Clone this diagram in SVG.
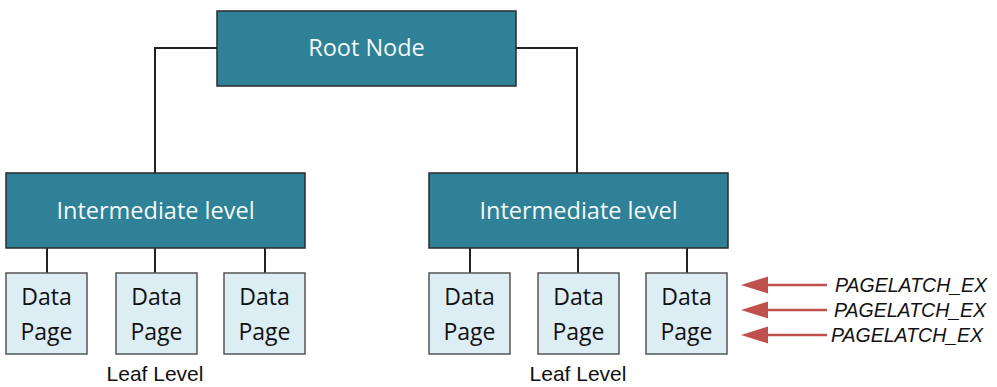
<svg xmlns="http://www.w3.org/2000/svg" width="997" height="387" viewBox="0 0 997 387">
<defs>
<style>
.teal{fill:#2E8196;stroke:#2b2b2b;stroke-width:1.5}
.page{fill:#DCEEF4;stroke:#555;stroke-width:1.5}
.wt{fill:#f4f8fa;font-family:"Open Sans","Noto Sans",sans-serif;font-size:23.5px;text-anchor:middle}
.bt{fill:#111;font-family:"Open Sans","Noto Sans",sans-serif;font-size:23px;text-anchor:middle}
.lf{fill:#111;font-family:"Liberation Sans",Arial,sans-serif;font-size:21px;text-anchor:middle}
.lbl{fill:#111;font-family:"Liberation Sans",Arial,sans-serif;font-size:19.5px;font-style:italic}
.ln{fill:none;stroke:#222;stroke-width:2}
.arr{stroke:#C0504D;stroke-width:2.5;fill:none}
</style>
</defs>
<g id="connectors">
<path class="ln" d="M217,48 H155 V173"/>
<path class="ln" d="M516,48 H577 V173"/>
<path class="ln" d="M47,248 V273 M155,248 V273 M265,248 V273"/>
<path class="ln" d="M470,248 V273 M578,248 V273 M687,248 V273"/>
<path d="M766,285 H827" class="arr"/><path d="M741,285 L768,276.5 L768,293.5 Z" fill="#C0504D"/>
<path d="M766,310 H827" class="arr"/><path d="M741,310 L768,301.5 L768,318.5 Z" fill="#C0504D"/>
<path d="M766,335 H827" class="arr"/><path d="M741,335 L768,326.5 L768,343.5 Z" fill="#C0504D"/>
</g>
<g id="root"><rect class="teal" x="217" y="11" width="299" height="75"/><text class="wt" x="366.5" y="56">Root Node</text></g>
<g id="int1"><rect class="teal" x="6" y="173" width="299" height="75"/><text class="wt" x="155.5" y="219">Intermediate level</text></g>
<g id="int2"><rect class="teal" x="429" y="173" width="299" height="75"/><text class="wt" x="578.5" y="219">Intermediate level</text></g>
<g id="p1"><rect class="page" x="6" y="273" width="81" height="81"/><text class="bt" x="46.5" y="305">Data</text><text class="bt" x="46.5" y="340">Page</text></g>
<g id="p2"><rect class="page" x="116" y="273" width="81" height="81"/><text class="bt" x="156.5" y="305">Data</text><text class="bt" x="156.5" y="340">Page</text></g>
<g id="p3"><rect class="page" x="224" y="273" width="81" height="81"/><text class="bt" x="264.5" y="305">Data</text><text class="bt" x="264.5" y="340">Page</text></g>
<g id="p4"><rect class="page" x="429" y="273" width="81" height="81"/><text class="bt" x="469.5" y="305">Data</text><text class="bt" x="469.5" y="340">Page</text></g>
<g id="p5"><rect class="page" x="538" y="273" width="81" height="81"/><text class="bt" x="578.5" y="305">Data</text><text class="bt" x="578.5" y="340">Page</text></g>
<g id="p6"><rect class="page" x="646" y="273" width="81" height="81"/><text class="bt" x="686.5" y="305">Data</text><text class="bt" x="686.5" y="340">Page</text></g>
<g id="leaf1"><text class="lf" x="155" y="381">Leaf Level</text></g>
<g id="leaf2"><text class="lf" x="578" y="381">Leaf Level</text></g>
<g id="labels">
<text class="lbl" x="835" y="292">PAGELATCH_EX</text>
<text class="lbl" x="834" y="317">PAGELATCH_EX</text>
<text class="lbl" x="831" y="342">PAGELATCH_EX</text>
</g>
</svg>
